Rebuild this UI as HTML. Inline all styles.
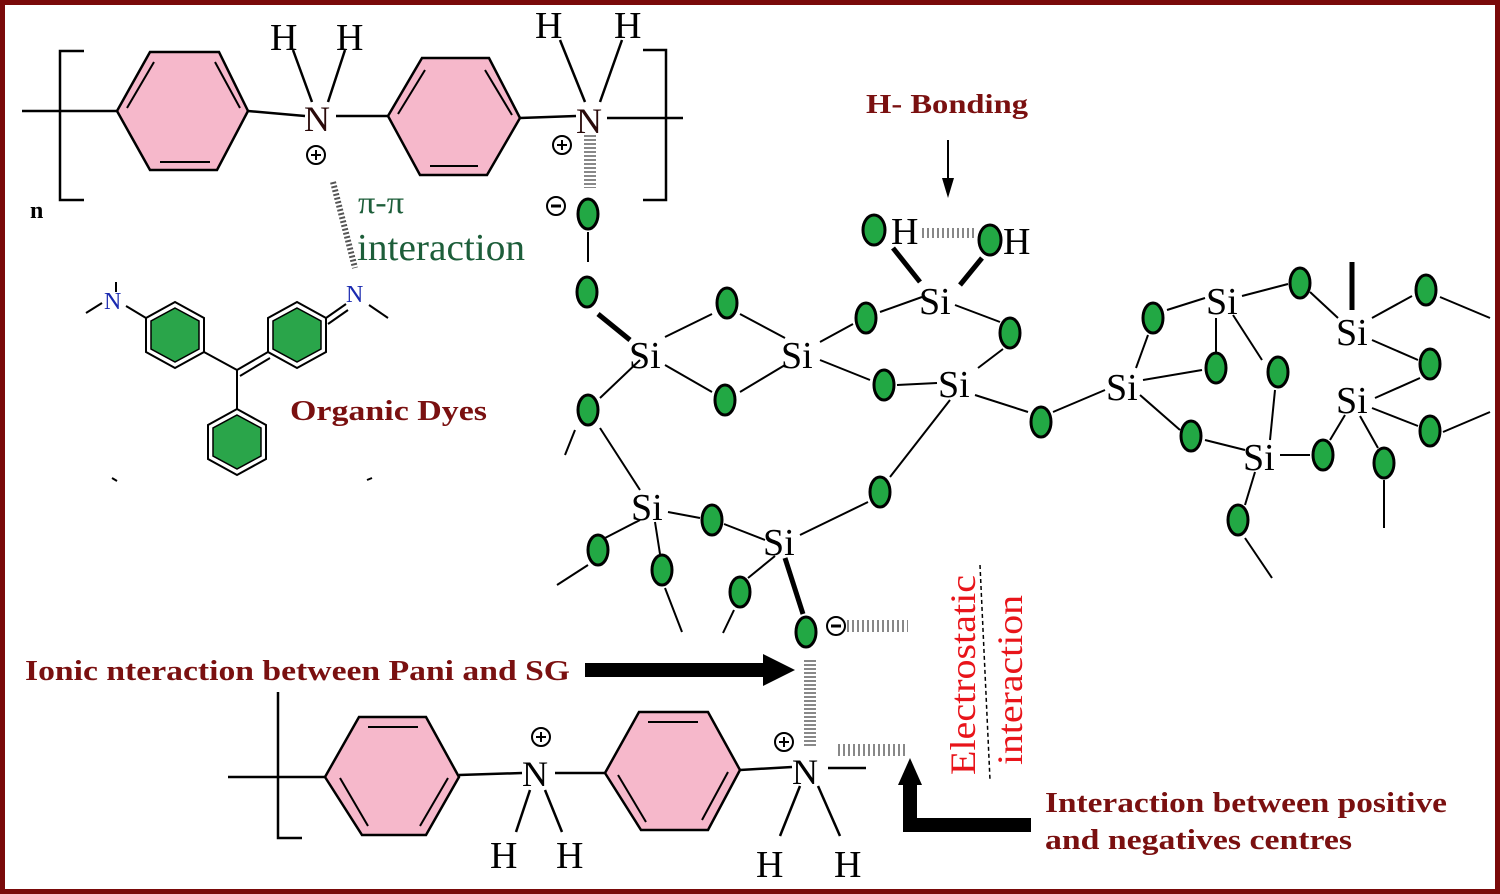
<!DOCTYPE html>
<html><head><meta charset="utf-8"><style>
html,body{margin:0;padding:0;background:#fff}
svg{display:block}
text{font-family:"Liberation Serif",serif}
</style></head><body>
<svg width="1500" height="894" viewBox="0 0 1500 894" xmlns="http://www.w3.org/2000/svg">
<rect x="0" y="0" width="1500" height="894" fill="#fff"/>
<rect x="2.5" y="2.5" width="1495" height="889" fill="none" stroke="#7a0a0a" stroke-width="5"/>

<g stroke="#000" stroke-width="2.5" fill="none">
<line x1="22" y1="111" x2="117" y2="111"/>
<polyline points="84,51 60,51 60,200 84,200"/>
<polygon points="117,111 150,52 219,52 248,111 217,170 150,170" fill="#f6b8cb"/>
<line x1="154" y1="62" x2="127" y2="108" stroke-width="2"/>
<line x1="215" y1="62" x2="240" y2="108" stroke-width="2"/>
<line x1="160" y1="162" x2="210" y2="162" stroke-width="2"/>
<line x1="248" y1="111" x2="305" y2="116"/>
<line x1="293" y1="50" x2="312" y2="102"/>
<line x1="345" y1="50" x2="328" y2="102"/>
<line x1="336" y1="116" x2="388" y2="116"/>
<polygon points="388,116 422,58 489,58 520,118 487,175 420,175" fill="#f6b8cb"/>
<line x1="425" y1="70" x2="398" y2="114" stroke-width="2"/>
<line x1="485" y1="70" x2="512" y2="115" stroke-width="2"/>
<line x1="430" y1="166" x2="478" y2="166" stroke-width="2"/>
<line x1="520" y1="118" x2="576" y2="116"/>
<line x1="560" y1="40" x2="585" y2="102"/>
<line x1="622" y1="40" x2="600" y2="102"/>
<line x1="607" y1="118" x2="683" y2="118"/>
<polyline points="643,50 666,50 666,200 643,200"/>
<line x1="228" y1="777" x2="325" y2="777"/>
<polyline points="278,692 278,838 302,838"/>
<polygon points="325,777 359,717 426,717 459,777 426,835 362,835" fill="#f6b8cb"/>
<line x1="368" y1="727" x2="418" y2="727" stroke-width="2"/>
<line x1="340" y1="778" x2="368" y2="826" stroke-width="2"/>
<line x1="448" y1="778" x2="420" y2="826" stroke-width="2"/>
<line x1="459" y1="775" x2="522" y2="773"/>
<line x1="555" y1="773" x2="605" y2="773"/>
<polygon points="605,773 639,712 708,712 740,770 708,830 641,830" fill="#f6b8cb"/>
<line x1="648" y1="722" x2="698" y2="722" stroke-width="2"/>
<line x1="618" y1="775" x2="646" y2="822" stroke-width="2"/>
<line x1="728" y1="772" x2="702" y2="820" stroke-width="2"/>
<line x1="740" y1="770" x2="792" y2="767"/>
<line x1="828" y1="768" x2="866" y2="768"/>
<line x1="530" y1="790" x2="516" y2="832"/>
<line x1="545" y1="790" x2="562" y2="832"/>
<line x1="800" y1="786" x2="780" y2="836"/>
<line x1="818" y1="786" x2="840" y2="836"/>
</g>

<g font-size="38" fill="#000">
<text x="270" y="50">H</text><text x="336" y="50">H</text>
<text x="304" y="131" font-size="36" fill="#2a0a0a">N</text>
<text x="535" y="38">H</text><text x="614" y="38">H</text>
<text x="576" y="133" font-size="36" fill="#2a0a0a">N</text>
<text x="522" y="786" font-size="36">N</text>
<text x="792" y="784" font-size="36">N</text>
<text x="490" y="868">H</text><text x="556" y="868">H</text>
<text x="756" y="877">H</text><text x="834" y="877">H</text>
</g>
<text x="30" y="218" font-size="24" font-weight="bold">n</text>

<g fill="none" stroke="#000" stroke-width="2">
<circle cx="316" cy="155" r="9"/><circle cx="562" cy="145" r="9"/>
<circle cx="541" cy="737" r="9"/><circle cx="784" cy="742" r="9"/>
<circle cx="556" cy="206" r="9"/><circle cx="836" cy="626" r="9"/>
</g>
<g stroke="#000" stroke-width="2">
<line x1="311" y1="155" x2="321" y2="155"/><line x1="316" y1="150" x2="316" y2="160"/>
<line x1="557" y1="145" x2="567" y2="145"/><line x1="562" y1="140" x2="562" y2="150"/>
<line x1="536" y1="737" x2="546" y2="737"/><line x1="541" y1="732" x2="541" y2="742"/>
<line x1="779" y1="742" x2="789" y2="742"/><line x1="784" y1="737" x2="784" y2="747"/>
<line x1="551" y1="206" x2="561" y2="206" stroke-width="3"/>
<line x1="831" y1="626" x2="841" y2="626" stroke-width="3"/>
</g>

<g stroke="#888" stroke-dasharray="2,2">
<line x1="590" y1="135" x2="590" y2="188" stroke-width="12"/>
<line x1="810" y1="660" x2="810" y2="748" stroke-width="12"/>
<line x1="847" y1="626" x2="908" y2="626" stroke-width="12" stroke-dasharray="2,3"/>
<line x1="838" y1="750" x2="908" y2="750" stroke-width="12" stroke-dasharray="2,3"/>
<line x1="922" y1="233" x2="975" y2="233" stroke-width="10" stroke-dasharray="2,3"/>
<line x1="333" y1="182" x2="355" y2="268" stroke-width="6" stroke="#555"/>
</g>
<text x="358" y="213" font-size="32" fill="#1d5e3a" textLength="46" lengthAdjust="spacingAndGlyphs">π-π</text>
<text x="357" y="260" font-size="38" fill="#1d5e3a" textLength="168" lengthAdjust="spacingAndGlyphs">interaction</text>

<g stroke="#000" stroke-width="2" fill="none">
<polygon points="175,302 204,318 204,352 175,368 146,352 146,318" fill="#fff"/>
<polygon points="175,308 199,321 199,349 175,362 151,349 151,321" fill="#2aa54a" stroke-width="1.5"/>
<polygon points="297,302 326,318 326,352 297,368 268,352 268,318" fill="#fff"/>
<polygon points="297,308 321,321 321,349 297,362 273,349 273,321" fill="#2aa54a" stroke-width="1.5"/>
<polygon points="237,409 266,425 266,459 237,475 208,459 208,425" fill="#fff"/>
<polygon points="237,415 261,428 261,456 237,469 213,456 213,428" fill="#2aa54a" stroke-width="1.5"/>
<line x1="204" y1="352" x2="237" y2="370"/>
<line x1="237" y1="370" x2="268" y2="352"/><line x1="240" y1="376" x2="270" y2="358"/>
<line x1="237" y1="370" x2="237" y2="409"/>
<line x1="146" y1="318" x2="126" y2="306"/>
<line x1="102" y1="303" x2="86" y2="313"/><line x1="116" y1="282" x2="116" y2="292"/>
<line x1="326" y1="318" x2="346" y2="304"/><line x1="328" y1="324" x2="348" y2="310"/>
<line x1="369" y1="305" x2="388" y2="318"/>
<line x1="112" y1="478" x2="117" y2="481"/><line x1="367" y1="480" x2="372" y2="478"/>
</g>
<text x="104" y="309" font-size="24" fill="#1a2ab0">N</text>
<text x="346" y="302" font-size="24" fill="#1a2ab0">N</text>
<text x="290" y="420" font-size="28" font-weight="bold" fill="#7a1010" textLength="197" lengthAdjust="spacingAndGlyphs">Organic Dyes</text>

<g stroke="#000" stroke-width="2" fill="none">
<line x1="588" y1="232" x2="588" y2="262"/>
<line x1="598" y1="314" x2="630" y2="340" stroke-width="5"/>
<line x1="665" y1="337" x2="712" y2="314"/>
<line x1="665" y1="365" x2="712" y2="392"/>
<line x1="740" y1="314" x2="785" y2="338"/>
<line x1="740" y1="392" x2="785" y2="365"/>
<line x1="820" y1="342" x2="853" y2="324"/>
<line x1="820" y1="360" x2="870" y2="380"/>
<line x1="880" y1="312" x2="922" y2="297"/>
<line x1="955" y1="305" x2="1000" y2="322"/>
<line x1="893" y1="248" x2="920" y2="282" stroke-width="5"/>
<line x1="982" y1="258" x2="960" y2="285" stroke-width="5"/>
<line x1="897" y1="385" x2="937" y2="383"/>
<line x1="1003" y1="349" x2="978" y2="368"/>
<line x1="975" y1="395" x2="1028" y2="412"/>
<line x1="1053" y1="412" x2="1105" y2="390"/>
<line x1="950" y1="400" x2="890" y2="477"/>
<line x1="868" y1="502" x2="800" y2="535"/>
<line x1="640" y1="360" x2="600" y2="398"/>
<line x1="600" y1="428" x2="640" y2="490"/>
<line x1="575" y1="430" x2="565" y2="455"/>
<line x1="668" y1="512" x2="700" y2="518"/>
<line x1="724" y1="524" x2="765" y2="540"/>
<line x1="640" y1="520" x2="605" y2="538"/>
<line x1="655" y1="522" x2="660" y2="554"/>
<line x1="588" y1="565" x2="557" y2="585"/>
<line x1="665" y1="588" x2="682" y2="632"/>
<line x1="775" y1="556" x2="748" y2="578"/>
<line x1="734" y1="610" x2="723" y2="633"/>
<line x1="785" y1="558" x2="803" y2="614" stroke-width="5"/>
<line x1="1140" y1="395" x2="1180" y2="430"/>
<line x1="1143" y1="380" x2="1202" y2="370"/>
<line x1="1136" y1="368" x2="1148" y2="335"/>
<line x1="1167" y1="310" x2="1205" y2="298"/>
<line x1="1242" y1="296" x2="1288" y2="284"/>
<line x1="1216" y1="318" x2="1216" y2="352"/>
<line x1="1233" y1="315" x2="1262" y2="360"/>
<line x1="1275" y1="390" x2="1270" y2="440"/>
<line x1="1205" y1="440" x2="1245" y2="450"/>
<line x1="1280" y1="455" x2="1310" y2="455"/>
<line x1="1255" y1="472" x2="1245" y2="505"/>
<line x1="1245" y1="538" x2="1272" y2="578"/>
<line x1="1310" y1="292" x2="1338" y2="318"/>
<line x1="1352" y1="262" x2="1352" y2="310" stroke-width="5"/>
<line x1="1372" y1="318" x2="1412" y2="296"/>
<line x1="1372" y1="340" x2="1418" y2="360"/>
<line x1="1420" y1="378" x2="1375" y2="398"/>
<line x1="1372" y1="408" x2="1418" y2="426"/>
<line x1="1345" y1="415" x2="1330" y2="440"/>
<line x1="1360" y1="416" x2="1378" y2="448"/>
<line x1="1384" y1="480" x2="1384" y2="528"/>
<line x1="1440" y1="297" x2="1490" y2="318"/>
<line x1="1443" y1="432" x2="1490" y2="412"/>
</g>
<g fill="#22a844" stroke="#000" stroke-width="3">
<ellipse cx="588" cy="214" rx="10" ry="15"/>
<ellipse cx="587" cy="292" rx="10" ry="15"/>
<ellipse cx="727" cy="303" rx="10" ry="15"/>
<ellipse cx="866" cy="318" rx="10" ry="15"/>
<ellipse cx="1010" cy="333" rx="10" ry="15"/>
<ellipse cx="874" cy="230" rx="11" ry="15"/>
<ellipse cx="990" cy="240" rx="11" ry="15"/>
<ellipse cx="725" cy="400" rx="10" ry="15"/>
<ellipse cx="884" cy="385" rx="10" ry="15"/>
<ellipse cx="588" cy="410" rx="10" ry="15"/>
<ellipse cx="1041" cy="422" rx="10" ry="15"/>
<ellipse cx="880" cy="492" rx="10" ry="15"/>
<ellipse cx="712" cy="520" rx="10" ry="15"/>
<ellipse cx="598" cy="550" rx="10" ry="15"/>
<ellipse cx="662" cy="570" rx="10" ry="15"/>
<ellipse cx="740" cy="592" rx="10" ry="15"/>
<ellipse cx="806" cy="632" rx="10" ry="15"/>
<ellipse cx="1153" cy="318" rx="10" ry="15"/>
<ellipse cx="1300" cy="283" rx="10" ry="15"/>
<ellipse cx="1426" cy="290" rx="10" ry="15"/>
<ellipse cx="1216" cy="368" rx="10" ry="15"/>
<ellipse cx="1278" cy="372" rx="10" ry="15"/>
<ellipse cx="1430" cy="364" rx="10" ry="15"/>
<ellipse cx="1191" cy="436" rx="10" ry="15"/>
<ellipse cx="1323" cy="455" rx="10" ry="15"/>
<ellipse cx="1430" cy="431" rx="10" ry="15"/>
<ellipse cx="1384" cy="463" rx="10" ry="15"/>
<ellipse cx="1238" cy="520" rx="10" ry="15"/>
</g>
<g font-size="38" fill="#000">
<text x="891" y="244">H</text><text x="1003" y="254">H</text>
<text x="629" y="368">Si</text><text x="781" y="368">Si</text>
<text x="919" y="314">Si</text><text x="938" y="397">Si</text>
<text x="1106" y="400">Si</text><text x="1206" y="314">Si</text>
<text x="1336" y="345">Si</text><text x="1336" y="413">Si</text>
<text x="1243" y="470">Si</text><text x="631" y="520">Si</text>
<text x="763" y="555">Si</text>
</g>

<text x="866" y="113" font-size="27" font-weight="bold" fill="#7a1010" textLength="162" lengthAdjust="spacingAndGlyphs">H- Bonding</text>
<line x1="948" y1="140" x2="948" y2="180" stroke="#000" stroke-width="2"/>
<polygon points="942,178 954,178 948,198" fill="#000"/>

<text x="25" y="680" font-size="28" font-weight="bold" fill="#7a1010" textLength="545" lengthAdjust="spacingAndGlyphs">Ionic nteraction between Pani and SG</text>
<rect x="585" y="663" width="180" height="14" fill="#000"/>
<polygon points="763,654 795,670 763,686" fill="#000"/>

<rect x="903" y="818" width="128" height="14" fill="#000"/>
<rect x="903" y="780" width="14" height="52" fill="#000"/>
<polygon points="898,785 922,785 910,758" fill="#000"/>
<text x="1045" y="812" font-size="28" font-weight="bold" fill="#7a1010" textLength="402" lengthAdjust="spacingAndGlyphs">Interaction between positive</text>
<text x="1045" y="849" font-size="28" font-weight="bold" fill="#7a1010" textLength="307" lengthAdjust="spacingAndGlyphs">and negatives centres</text>

<text transform="translate(975,775) rotate(-90)" font-size="36" fill="#e8141a" textLength="200" lengthAdjust="spacingAndGlyphs">Electrostatic</text>
<text transform="translate(1022,765) rotate(-90)" font-size="36" fill="#e8141a" textLength="170" lengthAdjust="spacingAndGlyphs">interaction</text>
<line x1="980" y1="565" x2="990" y2="780" stroke="#000" stroke-width="1.5" stroke-dasharray="4,3"/>
</svg>
</body></html>
